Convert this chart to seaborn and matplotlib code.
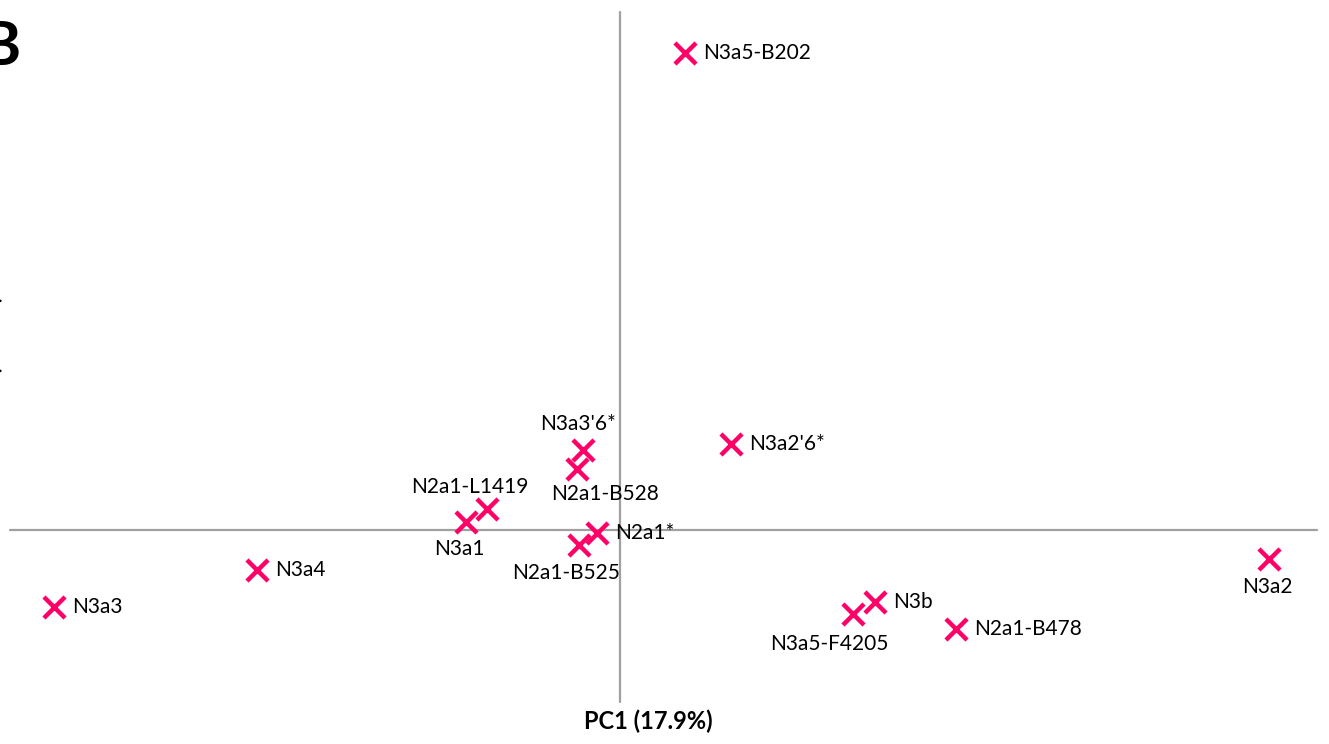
import matplotlib
matplotlib.use("Agg")
import matplotlib.pyplot as plt
import seaborn as sns
import pandas as pd

# data (PC1, PC2 scores)
haplogroups = ["N3a5-B202", "N3a3'6*", "N2a1-B528", "N3a2'6*", "N2a1-L1419", "N3a1",
               "N2a1*", "N2a1-B525", "N3a4", "N3a3", "N3b", "N3a5-F4205",
               "N2a1-B478", "N3a2"]
pc1 = [0.065, -0.037, -0.043, 0.111, -0.133, -0.154,
       -0.023, -0.041, -0.363, -0.566, 0.255, 0.233,
       0.336, 0.649]
pc2 = [0.477, 0.080, 0.061, 0.086, 0.021, 0.008,
       -0.003, -0.015, -0.040, -0.077, -0.072, -0.084,
       -0.099, -0.029]
# where each label sits relative to its marker
label_side = ["right", "above", "below", "right", "above", "below",
              "right", "below", "right", "right", "right", "below",
              "right", "below"]

df = pd.DataFrame({"PC1": pc1, "PC2": pc2, "name": haplogroups, "side": label_side})

sns.set_style("white")
plt.rcParams["font.family"] = ["Lato", "DejaVu Sans"]
plt.rcParams["text.color"] = "black"

fig = plt.figure(figsize=(13.29, 7.44), dpi=100)
ax = fig.add_axes([0, 0, 1, 1])

ax.set_xlim(-0.620, 0.709)
ax.set_ylim(-0.214, 0.530)

# cross-hair axes through the origin
ax.axhline(0, xmin=10 / 1329, xmax=1317 / 1329, color="#A0A0A0", lw=1.6, zorder=1)
ax.axvline(0, ymin=42 / 744, ymax=732 / 744, color="#A0A0A0", lw=1.6, zorder=1)

sns.scatterplot(data=df, x="PC1", y="PC2", marker="x", s=230, color="#FF0066",
                linewidth=3.2, ax=ax, zorder=3, legend=False)

# pixel offsets for label placement
offsets = {
    "N3a3'6*": (-5, 26), "N2a1-B528": (28, -25), "N2a1-L1419": (-17, 22),
    "N3a1": (-7, -27), "N2a1-B525": (-13, -28), "N3a5-F4205": (-24, -30),
    "N3a2": (-2, -28),
}
for _, r in df.iterrows():
    if r["side"] == "right":
        ax.annotate(r["name"], (r["PC1"], r["PC2"]), xytext=(18, 0),
                    textcoords="offset pixels", ha="left", va="center", fontsize=15)
    else:
        ax.annotate(r["name"], (r["PC1"], r["PC2"]), xytext=offsets[r["name"]],
                    textcoords="offset pixels", ha="center", va="center", fontsize=15)

ax.set_axis_off()

fig.text(648 / 1329, 1 - 721 / 744, "PC1 (17.9%)", ha="center", va="center",
         fontsize=17, fontweight="bold")
fig.text(-9 / 1329, 1 - 360 / 744, "PC2 (14.2%)", ha="center", va="center",
         rotation=90, fontsize=17, fontweight="bold")
fig.text(-20 / 1329, 1 - 47 / 744, "B", ha="left", va="center",
         fontsize=44, fontweight="bold")

fig.savefig("out.png", dpi=100)
